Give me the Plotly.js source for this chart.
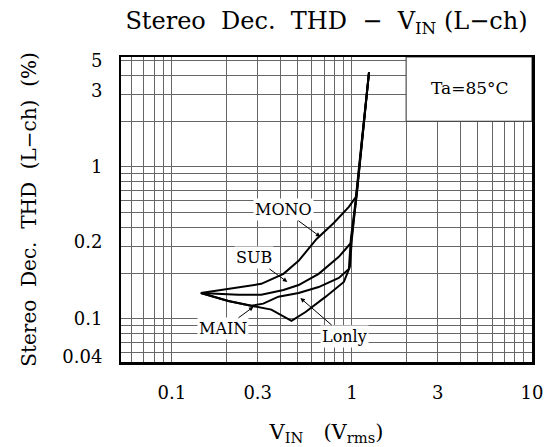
<!DOCTYPE html>
<html>
<head>
<meta charset="utf-8">
<script src="https://cdn.plot.ly/plotly-3.0.1.min.js"></script>
<style>html,body{margin:0;padding:0;background:#fff;}#chart{width:546px;height:447px;}</style>
</head>
<body>
<div id="chart"></div>
<script>
// ---- data ----
const monoX  = [0.145, 0.206, 0.314, 0.417, 0.506, 0.637, 0.793, 0.962, 1.053, 1.137, 1.245];
const monoY  = [0.148, 0.157, 0.170, 0.198, 0.241, 0.336, 0.428, 0.546, 0.635, 1.53, 4.22];
const subX   = [0.145, 0.234, 0.314, 0.417, 0.506, 0.654, 0.846, 0.987, 1.066, 1.245];
const subY   = [0.148, 0.144, 0.144, 0.155, 0.167, 0.198, 0.256, 0.316, 0.664, 4.22];
const lonlyX = [0.145, 0.206, 0.276, 0.322, 0.391, 0.506, 0.654, 0.846, 0.962, 0.987, 1.066, 1.245];
const lonlyY = [0.148, 0.131, 0.122, 0.126, 0.140, 0.148, 0.162, 0.186, 0.213, 0.336, 0.695, 4.22];
const mainX  = [0.145, 0.206, 0.276, 0.357, 0.462, 0.553, 0.716, 0.902, 0.975, 1.0, 1.066, 1.245];
const mainY  = [0.148, 0.131, 0.122, 0.115, 0.097, 0.111, 0.140, 0.175, 0.220, 0.336, 0.695, 4.22];

const curveNames = ['MONO', 'SUB', 'MAIN', 'Lonly'];
const labelPointX = [0.668, 0.438, 0.284, 0.518];
const labelPointY = [0.347, 0.175, 0.120, 0.137];

const xTickVals = [0.1, 0.3, 1, 3, 10];
const xTickText = ['0.1', '0.3', '1', '3', '10'];
const yTickPos  = [5, 3.2, 1, 0.32, 0.1, 0.056];
const yTickText = ['5', '3', '1', '0.2', '0.1', '0.04'];

const FONT = 'DejaVu Serif, Liberation Serif, serif';
const NB = '\u00a0';

const lineStyle = {color: '#000', width: 2};
const traces = [
  {x: monoX, y: monoY, name: 'MONO'},
  {x: subX, y: subY, name: 'SUB'},
  {x: mainX, y: mainY, name: 'MAIN'},
  {x: lonlyX, y: lonlyY, name: 'Lonly'}
].map(t => Object.assign(t, {type: 'scatter', mode: 'lines', line: lineStyle, showlegend: false, hoverinfo: 'skip', xaxis: 'x', yaxis: 'y'}));

const labelOffsets = [[-37, -27], [-33, -24], [-30, 22], [44, 38]];
const annotations = curveNames.map((n, i) => ({
  x: Math.log10(labelPointX[i]), y: Math.log10(labelPointY[i]), xref: 'x', yref: 'y',
  text: n, showarrow: true, arrowhead: 2, arrowsize: 0.9, arrowwidth: 1, arrowcolor: '#000',
  ax: labelOffsets[i][0], ay: labelOffsets[i][1],
  bgcolor: '#fff', borderpad: 1,
  font: {family: FONT, size: 16, color: '#000'}
}));
annotations.push({
  xref: 'paper', yref: 'paper', x: 0.85, y: 0.90, xanchor: 'center', yanchor: 'middle', showarrow: false,
  text: 'Ta=85°C', font: {family: FONT, size: 17, color: '#000'}
});

const gridColor = '#666';
const layout = {
  width: 546, height: 447,
  margin: {l: 121, r: 14, t: 57, b: 85},
  paper_bgcolor: '#fff', plot_bgcolor: '#fff',
  font: {family: FONT, color: '#000', size: 18},
  title: {
    text: 'Stereo' + NB + NB + 'Dec.' + NB + NB + 'THD' + NB + NB + '\u2212' + NB + NB + 'V<sub>IN</sub>' + NB + '(L\u2212ch)',
    font: {family: FONT, size: 24, color: '#000'},
    xref: 'paper', x: 0.5, xanchor: 'center',
    yref: 'container', y: 0.955, yanchor: 'middle'
  },
  xaxis: {
    type: 'log', range: [-1.282, 1.0],
    tickmode: 'array', tickvals: xTickVals, ticktext: xTickText,
    ticks: 'outside', ticklen: 13, tickcolor: 'rgba(0,0,0,0)',
    tickfont: {family: FONT, size: 18, color: '#000'},
    showgrid: true, gridcolor: gridColor, gridwidth: 1,
    minor: {dtick: 'D1', showgrid: true, gridcolor: gridColor, gridwidth: 1, ticks: ''},
    showline: true, mirror: true, linecolor: '#000', linewidth: 2.5,
    zeroline: false,
    title: {text: 'V<sub>IN</sub>' + NB + NB + NB + '(V<sub>rms</sub>)', font: {family: FONT, size: 21, color: '#000'}, standoff: 22}
  },
  yaxis: {
    type: 'log', range: [-1.284, 0.724],
    showticklabels: false, ticks: '',
    tickmode: 'array', tickvals: [0.1, 1],
    showgrid: true, gridcolor: gridColor, gridwidth: 1,
    minor: {dtick: 'D1', showgrid: true, gridcolor: gridColor, gridwidth: 1, ticks: ''},
    showline: true, mirror: true, linecolor: '#000', linewidth: 2.5,
    zeroline: false
  },
  yaxis2: {
    type: 'log', range: [-1.284, 0.724], overlaying: 'y', side: 'left', anchor: 'x',
    tickmode: 'array', tickvals: yTickPos, ticktext: yTickText,
    ticks: 'outside', ticklen: 14, tickcolor: 'rgba(0,0,0,0)',
    tickfont: {family: FONT, size: 18, color: '#000'},
    showgrid: false, zeroline: false, showline: false,
    title: {text: 'Stereo' + NB + NB + 'Dec.' + NB + NB + 'THD' + NB + NB + '(L\u2212ch)' + NB + NB + '(%)', font: {family: FONT, size: 20, color: '#000'}, standoff: 20}
  },
  shapes: [{
    type: 'rect', layer: 'between', xref: 'x', yref: 'y',
    x0: 2, x1: 10, y0: 2, y1: 5.3,
    fillcolor: '#fff', line: {color: '#333', width: 1}
  }],
  annotations: annotations
};

// empty helper trace so the label axis is drawn
traces.push({type: 'scatter', x: [], y: [], xaxis: 'x', yaxis: 'y2', showlegend: false, hoverinfo: 'skip'});

Plotly.newPlot('chart', traces, layout, {staticPlot: true, displayModeBar: false});
</script>
</body>
</html>
